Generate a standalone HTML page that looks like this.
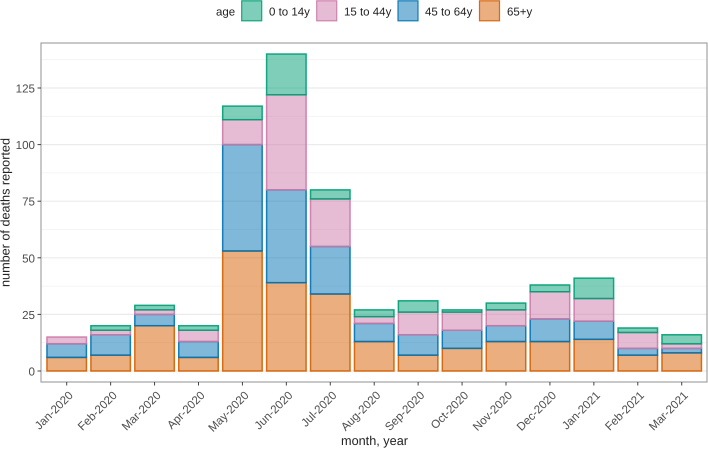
<!DOCTYPE html>
<html>
<head>
<meta charset="utf-8">
<style>
html,body{margin:0;padding:0;background:#fff;width:708px;height:449px;overflow:hidden}
svg{display:block;font-family:"Liberation Sans",Arial,sans-serif;text-rendering:geometricPrecision}
</style>
</head>
<body>
<svg id="chart" width="708" height="449" viewBox="0 0 708 449" xmlns="http://www.w3.org/2000/svg">
<rect x="41" y="43" width="666" height="339" fill="#fff"/>
<g id="grid"></g>
<g id="bars"></g>
<rect x="41" y="43" width="666" height="339" fill="none" stroke="#a3a3a3" stroke-width="1.2"/>
<g id="axes"></g>
<text x="374.5" y="445" font-size="12.7" fill="#222" text-anchor="middle">month, year</text>
<text transform="translate(9.5,212.5) rotate(-90)" font-size="12.65" fill="#222" text-anchor="middle">number of deaths reported</text>
<g id="legend">
<text x="216" y="15.5" font-size="11.5" fill="#222">age</text>
</g>
</svg>
<script>
const categories = ["Jan-2020","Feb-2020","Mar-2020","Apr-2020","May-2020","Jun-2020","Jul-2020","Aug-2020","Sep-2020","Oct-2020","Nov-2020","Dec-2020","Jan-2021","Feb-2021","Mar-2021"];
const age65plus = [6,7,20,6,53,39,34,13,7,10,13,13,14,7,8];
const age45to64 = [6,9,5,7,47,41,21,8,9,8,7,10,8,3,2];
const age15to44 = [3,2,2,5,11,42,21,3,10,8,7,12,10,7,2];
const age0to14 = [0,2,2,2,6,18,4,3,5,1,3,3,9,2,4];
const yTicks = [0,25,50,75,100,125];
const yMinorTicks = [12.5,37.5,62.5,87.5,112.5,137.5];
const seriesNames = ["65+y","45 to 64y","15 to 44y","0 to 14y"];
const legendLabels = ["0 to 14y","15 to 44y","45 to 64y","65+y"];

const NS = "http://www.w3.org/2000/svg";
const colors = {"65+y":"#D55E00","45 to 64y":"#0072B2","15 to 44y":"#CC79A7","0 to 14y":"#009E73"};
const seriesValues = {"65+y":age65plus,"45 to 64y":age45to64,"15 to 44y":age15to44,"0 to 14y":age0to14};
const legendPos = [[241.7,269],[316.7,344],[398,425],[479.5,507]];
const xScale = i => 66.7 + i * 43.93;
const yScale = v => 371 - v * 2.264;
const barW = 39.5;

function mk(parent, tag, attrs, text){
  const el = document.createElementNS(NS, tag);
  for (const k in attrs) el.setAttribute(k, attrs[k]);
  if (text !== undefined) el.textContent = text;
  parent.appendChild(el);
  return el;
}
const grid = document.getElementById('grid');
const bars = document.getElementById('bars');
const axes = document.getElementById('axes');
const legend = document.getElementById('legend');

yMinorTicks.forEach(t => {
  const l = mk(grid,'line',{x1:41,x2:707,y1:yScale(t),y2:yScale(t),stroke:'#f2f2f2','stroke-width':0.8});
  
  
});
yTicks.forEach(t => {
  const l = mk(grid,'line',{x1:41,x2:707,y1:yScale(t),y2:yScale(t),stroke:'#ebebeb','stroke-width':1.2});
  
  
  const tk = mk(axes,'line',{x1:37.5,x2:41,y1:yScale(t),y2:yScale(t),stroke:'#444','stroke-width':1});
  
  
  const lb = mk(axes,'text',{x:35,y:yScale(t)+4.5,'font-size':11.6,fill:'#4d4d4d','text-anchor':'end'},String(t));
  
  
});
categories.forEach((c,i) => {
  let base = 0;
  seriesNames.forEach(s => {
    const v = seriesValues[s][i];
    if (v > 0) {
      const r = mk(bars,'rect',{x:xScale(i)-barW/2,y:yScale(base+v),width:barW,height:yScale(base)-yScale(base+v),fill:colors[s],'fill-opacity':0.5,stroke:colors[s],'stroke-opacity':0.9,'stroke-width':1.5});
      
      
    }
    base += v;
  });
  const tk = mk(axes,'line',{x1:xScale(i),x2:xScale(i),y1:382,y2:385.5,stroke:'#444','stroke-width':1});
  
  
  const lb = mk(axes,'text',{transform:`translate(${xScale(i)+7},${396}) rotate(-45)`,'font-size':11.6,fill:'#4d4d4d','text-anchor':'end'},c);
  
  
});
legendLabels.forEach((s,i) => {
  const p = legendPos[i];
  const sw = mk(legend,'rect',{x:p[0],y:0.8,width:20,height:20,fill:colors[s],'fill-opacity':0.5,stroke:colors[s],'stroke-opacity':0.9,'stroke-width':1.2});
  
  
  const t = mk(legend,'text',{x:p[1],y:15.5,'font-size':11.5,fill:'#222'},s);
  
  
});
</script>
</body>
</html>
